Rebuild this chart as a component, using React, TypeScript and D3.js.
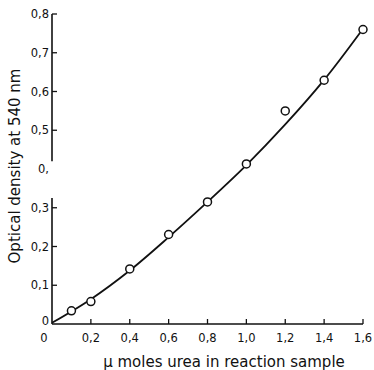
import React from "react";
import * as d3 from "d3";

const xTicks = [0, 0.2, 0.4, 0.6, 0.8, 1.0, 1.2, 1.4, 1.6];
const xTickLabels = ["0", "0,2", "0,4", "0,6", "0,8", "1,0", "1,2", "1,4", "1,6"];
const yTicks = [0, 0.1, 0.2, 0.3, 0.4, 0.5, 0.6, 0.7, 0.8];
const yTickLabels = ["0", "0,1", "0,2", "0,3", "0,", "0,5", "0,6", "0,7", "0,8"];
const yTickMarks = [0.1, 0.2, 0.3, 0.5, 0.6, 0.7, 0.8];

const pointX = [0.1, 0.2, 0.4, 0.6, 0.8, 1.0, 1.2, 1.4, 1.6];
const pointY = [0.034, 0.058, 0.142, 0.231, 0.315, 0.413, 0.55, 0.629, 0.76];

const curveX = [0, 0.2, 0.4, 0.6, 0.8, 1.0, 1.2, 1.4, 1.6];
const curveY = [0.003, 0.064, 0.138, 0.224, 0.315, 0.41, 0.515, 0.63, 0.762];

const axisBreak = [0.42, 0.325];

const W = 374;
const H = 370;

export default function App() {
  const x = d3.scaleLinear().domain([0, 1.6]).range([52, 363]);
  const y = d3.scaleLinear().domain([0, 0.8]).range([324, 14]);
  const line = d3
    .line<number>()
    .x((_, i) => x(curveX[i]))
    .y((d) => y(d))
    .curve(d3.curveCatmullRom.alpha(0.5));
  const font = "'DejaVu Sans', sans-serif";
  return (
    <svg
      width={W}
      height={H}
      style={{ position: "absolute", left: 0, top: 0, background: "#fff" }}
    >
      {/* y axis with break */}
      <line x1={x(0)} x2={x(0)} y1={y(0.8)} y2={y(axisBreak[0])} stroke="#111" strokeWidth={1.6} />
      <line x1={x(0)} x2={x(0)} y1={y(axisBreak[1])} y2={y(0)} stroke="#111" strokeWidth={1.6} />
      {yTickMarks.map((t) => (
        <line key={t} x1={x(0)} x2={x(0) + 5} y1={y(t)} y2={y(t)} stroke="#111" strokeWidth={1.3} />
      ))}
      {yTicks.map((t, i) => (
        <text
          key={t}
          x={x(0) - 3}
          y={i === 0 ? y(t) + 1 : y(t) + 4}
          textAnchor="end"
          fontFamily={font}
          fontSize={11.5}
          fill="#111"
        >
          {yTickLabels[i]}
        </text>
      ))}
      {/* x axis */}
      <line x1={x(0)} x2={x(1.6)} y1={y(0)} y2={y(0)} stroke="#111" strokeWidth={1.6} />
      {xTicks.slice(1).map((t) => (
        <line key={t} x1={x(t)} x2={x(t)} y1={y(0)} y2={y(0) - 5} stroke="#111" strokeWidth={1.3} />
      ))}
      {xTicks.map((t, i) => (
        <text
          key={t}
          x={i === 0 ? x(t) - 8 : x(t)}
          y={342}
          textAnchor="middle"
          fontFamily={font}
          fontSize={11.5}
          fill="#111"
        >
          {xTickLabels[i]}
        </text>
      ))}
      {/* curve */}
      <path d={line(curveY) || ""} fill="none" stroke="#111" strokeWidth={1.8} />
      {/* points */}
      {pointX.map((px, i) => (
        <circle
          key={px}
          cx={x(px)}
          cy={y(pointY[i])}
          r={4}
          fill="#fff"
          stroke="#111"
          strokeWidth={1.5}
        />
      ))}
      {/* axis titles */}
      <text
        x={224}
        y={367}
        textAnchor="middle"
        fontFamily={font}
        fontSize={15}
        fill="#111"
      >
        μ moles urea in reaction sample
      </text>
      <text
        transform={`translate(20,166) rotate(-90)`}
        textAnchor="middle"
        fontFamily={font}
        fontSize={15}
        fill="#111"
      >
        Optical density at 540 nm
      </text>
    </svg>
  );
}
